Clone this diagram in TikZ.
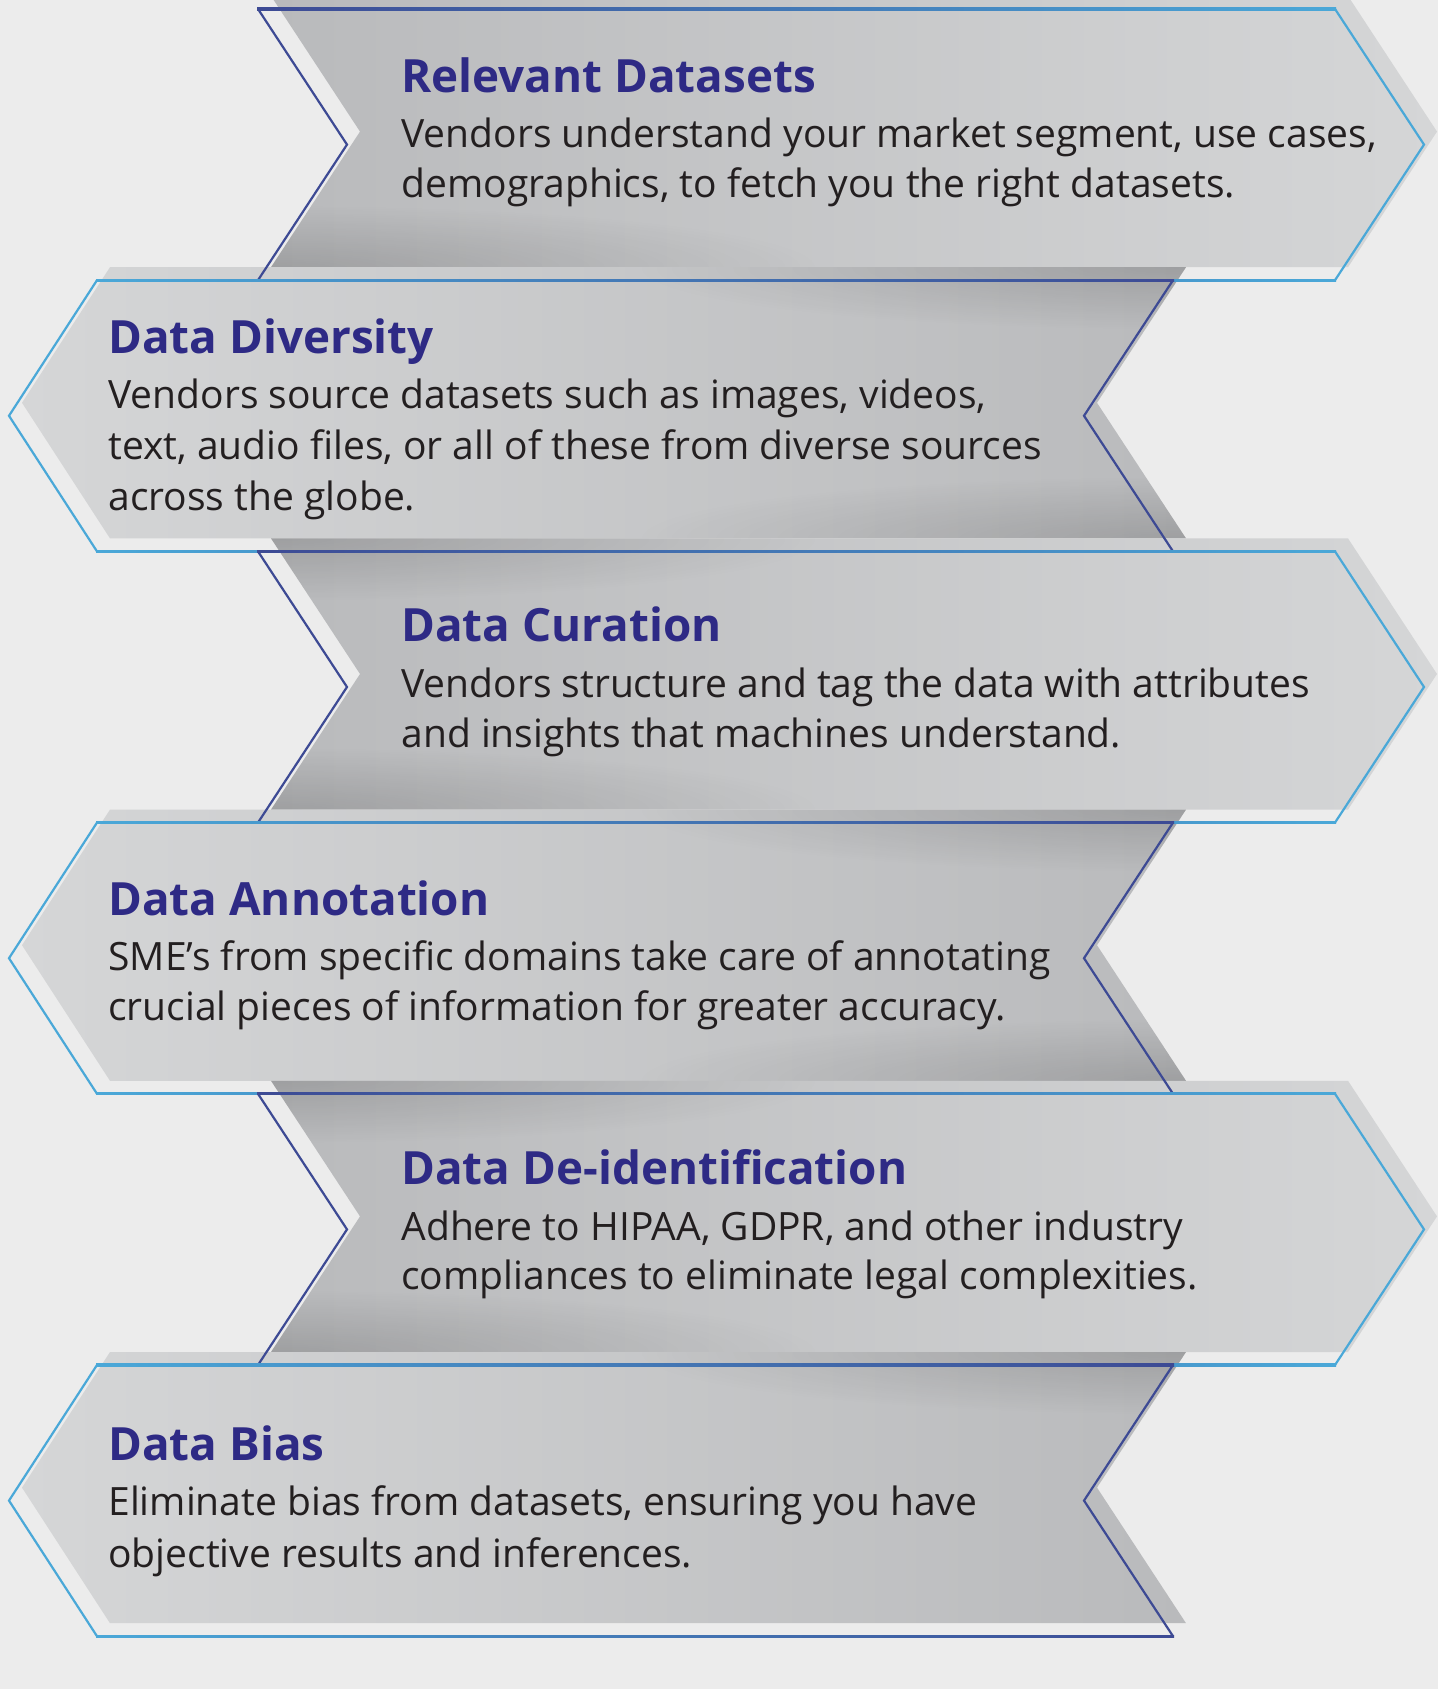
\documentclass[tikz,border=0pt]{standalone}
\usepackage{fontspec}
\setmainfont{Open Sans}
\usetikzlibrary{fadings}
\definecolor{bg}{HTML}{ECECEC}
\definecolor{db}{HTML}{3D4A94}
\definecolor{lb}{HTML}{4AA8D8}
\definecolor{gdark}{HTML}{B9BABC}
\definecolor{glight}{HTML}{D5D6D7}
\definecolor{ttl}{HTML}{2E2A85}
\definecolor{txt}{HTML}{231F20}
\tikzfading[name=foldfade, inner color=transparent!0, outer color=transparent!100]
% right-pointing band (notch at left), #1 = outline top, #2 top shadow opacity, #3 bottom shadow opacity
\newcommand\bandFillR[3]{%
  \begin{scope}
    \clip (271,#1-13) -- (1348,#1-13) -- (1437,#1+122.6) -- (1348,#1+258.2) -- (271,#1+258.2) -- (360,#1+122.6) -- cycle;
    \shade[left color=gdark, right color=glight] (271,#1-13) rectangle (1437,#1+258.2);
    \fill[black, fill opacity=#2, path fading=foldfade] (280,#1-13) ellipse [x radius=540, y radius=62];
    \fill[black, fill opacity=#3, path fading=foldfade] (280,#1+258.2) ellipse [x radius=540, y radius=62];
  \end{scope}}
% left-pointing band (notch at right)
\newcommand\bandFillL[3]{%
  \begin{scope}
    \clip (110,#1-13) -- (1186,#1-13) -- (1097,#1+122.6) -- (1186,#1+258.2) -- (110,#1+258.2) -- (22,#1+122.6) -- cycle;
    \shade[left color=glight, right color=gdark] (22,#1-13) rectangle (1186,#1+258.2);
    \fill[black, fill opacity=#2, path fading=foldfade] (1176,#1-13) ellipse [x radius=540, y radius=62];
    \fill[black, fill opacity=#3, path fading=foldfade] (1176,#1+258.2) ellipse [x radius=540, y radius=62];
  \end{scope}}
\newcommand\bandLineR[1]{%
  \draw[db, outl] (258,#1) -- (347,#1+135.6) -- (258,#1+271.2);
  \draw[lb, outl] (1335,#1) -- (1424,#1+135.6) -- (1335,#1+271.2);
  \shade[left color=db, right color=lb] (257,#1-1.1) rectangle (1336,#1+1.1);
  \shade[left color=db, right color=lb] (257,#1+270.1) rectangle (1336,#1+272.3);}
\newcommand\bandLineL[1]{%
  \draw[lb, outl] (97,#1) -- (9,#1+135.6) -- (97,#1+271.2);
  \draw[db, outl] (1173,#1) -- (1084,#1+135.6) -- (1173,#1+271.2);
  \shade[left color=lb, right color=db] (96,#1-1.1) rectangle (1174,#1+1.1);
  \shade[left color=lb, right color=db] (96,#1+270.1) rectangle (1174,#1+272.3);}
\begin{document}
\begin{tikzpicture}[x=0.5pt,y=-0.5pt,
  outl/.style={line width=1.1pt, line join=miter},
  ttlstyle/.style={anchor=base west, inner sep=0pt, text=ttl, font=\fontsize{22.9}{28}\selectfont\bfseries},
  bodystyle/.style={anchor=base west, inner sep=0pt, text=txt, font=\fontsize{19.5}{25}\selectfont}]
\fill[bg] (0,0) rectangle (1438,1689);
\useasboundingbox (0,0) rectangle (1438,1689);
% fills
\bandFillR{9}{0}{0.14}
\bandFillL{280.2}{0.14}{0.14}
\bandFillR{551.4}{0.14}{0.14}
\bandFillL{822.6}{0.14}{0.14}
\bandFillR{1093.8}{0.14}{0.14}
\bandFillL{1365}{0.14}{0}
% outlines
\bandLineR{9}
\bandLineL{280.2}
\bandLineR{551.4}
\bandLineL{822.6}
\bandLineR{1093.8}
\bandLineL{1365}
% texts
\node[ttlstyle] (t1) at (401,93) {Relevant Datasets};
\node[bodystyle] (b1a) at (401,148) {Vendors understand your market segment, use cases,};
\node[bodystyle] (b1b) at (401,198) {demographics, to fetch you the right datasets.};
\node[ttlstyle] (t2) at (108,354) {Data Diversity};
\node[bodystyle] (b2a) at (108,409) {Vendors source datasets such as images, videos,};
\node[bodystyle] (b2b) at (108,460) {text, audio files, or all of these from diverse sources};
\node[bodystyle] (b2c) at (108,510) {across the globe.};
\node[ttlstyle] (t3) at (401,641) {Data Curation};
\node[bodystyle] (b3a) at (401,697) {Vendors structure and tag the data with attributes};
\node[bodystyle] (b3b) at (401,747) {and insights that machines understand.};
\node[ttlstyle] (t4) at (108,915) {Data Annotation};
\node[bodystyle] (b4a) at (108,970) {SME’s from specific domains take care of annotating};
\node[bodystyle] (b4b) at (108,1020) {crucial pieces of information for greater accuracy.};
\node[ttlstyle] (t5) at (401,1184) {Data De-identification};
\node[bodystyle] (b5a) at (401,1240) {Adhere to HIPAA, GDPR, and other industry};
\node[bodystyle] (b5b) at (401,1289) {compliances to eliminate legal complexities.};
\node[ttlstyle] (t6) at (108,1460) {Data Bias};
\node[bodystyle] (b6a) at (108,1515) {Eliminate bias from datasets, ensuring you have};
\node[bodystyle] (b6b) at (108,1567) {objective results and inferences.};
\end{tikzpicture}
\end{document}
